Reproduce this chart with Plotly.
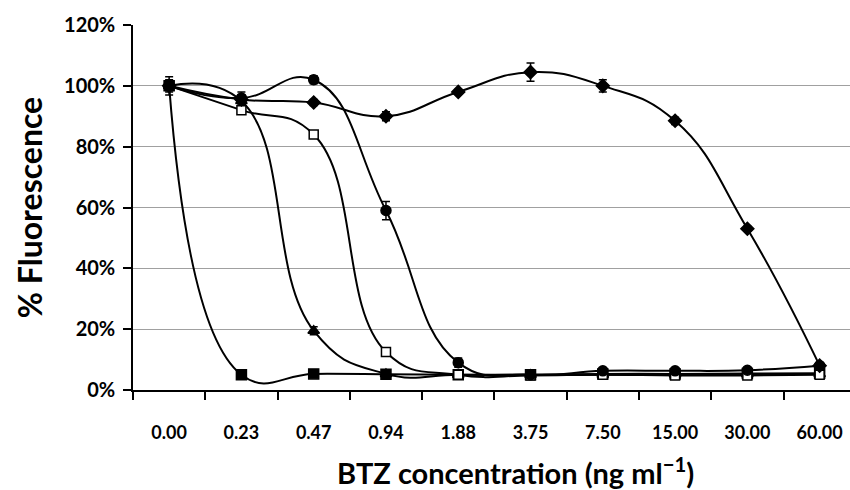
import plotly.graph_objects as go

categories = ["0.00", "0.23", "0.47", "0.94", "1.88", "3.75", "7.50", "15.00", "30.00", "60.00"]

series_a = [100, 5, 5.3, 5.2, 5.0, 5.0, 5.3, 5.3, 5.4, 5.5]
err_a = [1.0, 0.6, 0.5, 0.4, 0.3, 0.3, 0.3, 0.3, 0.3, 0.4]

series_b = [100, 95, 19.5, 5.3, 5.0, 5.0, 5.0, 5.1, 5.2, 5.3]
err_b = [1.0, 2.0, 1.3, 0.5, 0.3, 0.3, 0.3, 0.3, 0.3, 0.3]

series_c = [100, 92, 84, 12.5, 5.0, 4.8, 5.0, 4.8, 4.8, 5.0]
err_c = [3.0, 1.0, 1.0, 0.5, 0.4, 0.3, 0.3, 0.3, 0.3, 0.3]

series_d = [100, 96, 102, 59, 9, 5.0, 6.3, 6.3, 6.5, 8.0]
err_d = [1.5, 2.0, 1.3, 3.0, 1.5, 0.4, 0.5, 0.5, 0.5, 1.0]

series_e = [100, 95.5, 94.5, 90, 98, 104.5, 100, 88.5, 53, 8.0]
err_e = [2.0, 1.5, 1.0, 1.5, 0.8, 3.0, 2.0, 1.2, 0.8, 0.6]

y_ticks = [0, 20, 40, 60, 80, 100, 120]
y_ticktext = ["0%", "20%", "40%", "60%", "80%", "100%", "120%"]

x_title = "<b>BTZ concentration (ng ml<sup>−1</sup>)</b>"
y_title = "<b>% Fluorescence</b>"

specs = [
    (series_a, err_a, "square", "black", 10),
    (series_b, err_b, "triangle-up", "black", 10),
    (series_c, err_c, "square", "white", 9),
    (series_d, err_d, "circle", "black", 10),
    (series_e, err_e, "diamond", "black", 10),
]

fig = go.Figure()
for vals, errs, sym, fill, size in specs:
    fig.add_trace(go.Scatter(
        x=categories, y=vals, mode="lines+markers",
        line=dict(color="black", width=2, shape="spline", smoothing=1.3),
        marker=dict(symbol=sym, size=size, color=fill, line=dict(color="black", width=1.5)),
        error_y=dict(type="data", array=errs, visible=True, color="black", thickness=1.5, width=4),
        showlegend=False,
    ))

font_family = "Lato, 'Open Sans', sans-serif"
fig.update_layout(
    width=850, height=490,
    margin=dict(l=133, r=0, t=25, b=100),
    paper_bgcolor="white", plot_bgcolor="white",
    font=dict(family=font_family, color="black"),
    xaxis=dict(
        type="category", categoryorder="array", categoryarray=categories,
        range=[-0.5, 9.42],
        showline=True, linecolor="black", linewidth=1.5,
        ticks="outside", ticklen=8, tickcolor="black", tickwidth=1.5,
        tickson="boundaries", showgrid=False,
        tickfont=dict(size=18, family=font_family, weight="bold"),
        ticklabelstandoff=26,
    ),
    yaxis=dict(
        range=[0, 120], tickvals=y_ticks, ticktext=y_ticktext,
        showline=True, linecolor="black", linewidth=1.5,
        ticks="outside", ticklen=8, tickcolor="black", tickwidth=1.5,
        showgrid=True, gridcolor="#a0a0a0", gridwidth=1.3, zeroline=False,
        tickfont=dict(size=20, family=font_family, weight="bold"),
        ticklabelstandoff=4,
        title=dict(text=y_title, font=dict(size=32), standoff=12),
    ),
    annotations=[dict(
        text=x_title, xref="paper", yref="paper",
        x=0.533, y=-0.222, xanchor="center", yanchor="middle",
        showarrow=False, font=dict(size=29, family=font_family, color="black"),
    )],
)

fig.write_html("out.html")
